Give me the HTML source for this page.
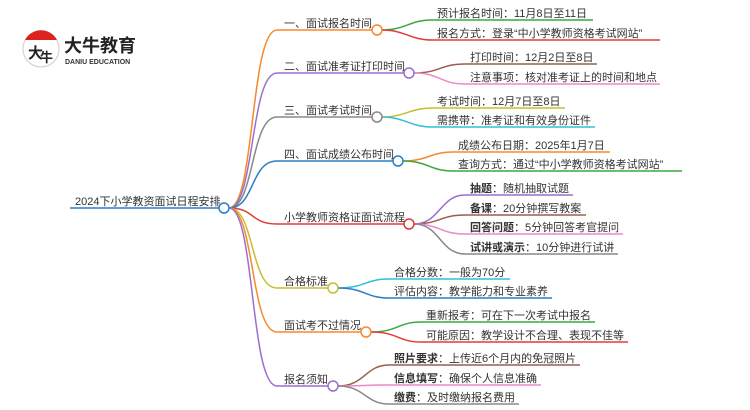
<!DOCTYPE html>
<html><head><meta charset="utf-8"><style>
body{margin:0;background:#fff;}
svg{display:block;font-family:"Liberation Sans","Noto Sans CJK SC",sans-serif;}
text{font-size:11px;fill:#333;}
.b{font-weight:bold;}
</style></head><body>
<svg width="750" height="410" viewBox="0 0 750 410" xmlns="http://www.w3.org/2000/svg">
<!-- logo -->
<circle cx="41" cy="49" r="18" fill="#fff" stroke="#ccc" stroke-width="1"/>
<path d="M25,40 A18,18 0 0 1 57,40 Z" fill="#d22"/>
<text x="28" y="58" style="font-size:15px;fill:#222;font-weight:bold">大</text>
<text x="40" y="62" style="font-size:13px;fill:#222;font-weight:bold">牛</text>
<text x="64" y="52" style="font-size:18px;font-weight:bold;fill:#222">大牛教育</text>
<text x="65" y="64" style="font-size:7px;font-weight:bold;fill:#333">DANIU EDUCATION</text>

<g fill="none" stroke-width="1.5">
<path d="M70,208 H219" stroke="#2a7fc6"/>
<path d="M229,208 C255,208 250,30 277,30 H372" stroke="#f7892a"/>
<path d="M229,208 C255,208 250,73 277,73 H404" stroke="#9a6fd0"/>
<path d="M229,208 C255,208 250,117 277,117 H372" stroke="#888"/>
<path d="M229,208 C255,208 250,161 277,161 H393" stroke="#2a7fc6"/>
<path d="M229,208 C255,208 250,224 277,224 H404" stroke="#e03c3c"/>
<path d="M229,208 C255,208 250,288 277,288 H328" stroke="#c7bd2e"/>
<path d="M229,208 C255,208 250,332 277,332 H361" stroke="#f7892a"/>
<path d="M229,208 C255,208 250,386 277,386 H328" stroke="#9a6fd0"/>
<path d="M382,30 C405,30 410,20 432,20 H593" stroke="#3aa83a"/>
<path d="M382,30 C405,30 410,40 432,40 H660" stroke="#e03c3c"/>
<path d="M414,73 C440,73 440,64 465,64 H597" stroke="#9a5e4e"/>
<path d="M414,73 C440,73 440,84 465,84 H660" stroke="#e98acb"/>
<path d="M382,117 C405,117 410,108 432,108 H565" stroke="#c7bd2e"/>
<path d="M382,117 C405,117 410,127 432,127 H595" stroke="#2fc0d8"/>
<path d="M403,161 C428,161 430,152 453,152 H610" stroke="#f7892a"/>
<path d="M403,161 C428,161 430,171 453,171 H682" stroke="#3aa83a"/>
<path d="M414,224 C440,224 440,195 465,195 H573" stroke="#9a6fd0"/>
<path d="M414,224 C440,224 440,215 465,215 H586" stroke="#9a5e4e"/>
<path d="M414,224 C440,224 440,234 465,234 H623" stroke="#e98acb"/>
<path d="M414,224 C440,224 440,254 465,254 H618" stroke="#888"/>
<path d="M338,288 C365,288 365,279 389,279 H510" stroke="#2fc0d8"/>
<path d="M338,288 C365,288 365,298 389,298 H552" stroke="#2a7fc6"/>
<path d="M371,332 C398,332 398,322 421,322 H595" stroke="#3aa83a"/>
<path d="M371,332 C398,332 398,342 421,342 H628" stroke="#e03c3c"/>
<path d="M338,386 C365,386 365,365 389,365 H580" stroke="#9a5e4e"/>
<path d="M338,386 C365,386 365,385 389,385 H541" stroke="#e98acb"/>
<path d="M338,386 C365,386 365,404 389,404 H519" stroke="#888"/>
</g>
<g fill="#fff" stroke-width="1.5">
<circle cx="224" cy="208" r="5" stroke="#2a7fc6"/>
<circle cx="377" cy="30" r="5" stroke="#f7892a"/>
<circle cx="409" cy="73" r="5" stroke="#9a6fd0"/>
<circle cx="377" cy="117" r="5" stroke="#888"/>
<circle cx="398" cy="161" r="5" stroke="#2a7fc6"/>
<circle cx="409" cy="224" r="5" stroke="#e03c3c"/>
<circle cx="333" cy="288" r="5" stroke="#c7bd2e"/>
<circle cx="366" cy="332" r="5" stroke="#f7892a"/>
<circle cx="333" cy="386" r="5" stroke="#9a6fd0"/>
</g>
<text x="75" y="205">2024下小学教资面试日程安排</text>
<text x="284" y="27">一、面试报名时间</text>
<text x="284" y="70">二、面试准考证打印时间</text>
<text x="284" y="114">三、面试考试时间</text>
<text x="284" y="158">四、面试成绩公布时间</text>
<text x="284" y="221">小学教师资格证面试流程</text>
<text x="284" y="285">合格标准</text>
<text x="284" y="329">面试考不过情况</text>
<text x="284" y="383">报名须知</text>

<text x="437" y="17">预计报名时间：11月8日至11日</text>
<text x="437" y="37">报名方式：登录“中小学教师资格考试网站”</text>
<text x="470" y="61">打印时间：12月2日至8日</text>
<text x="470" y="81">注意事项：核对准考证上的时间和地点</text>
<text x="437" y="105">考试时间：12月7日至8日</text>
<text x="437" y="124">需携带：准考证和有效身份证件</text>
<text x="458" y="149">成绩公布日期：2025年1月7日</text>
<text x="458" y="168">查询方式：通过“中小学教师资格考试网站”</text>
<text x="470" y="192"><tspan class="b">抽题</tspan>：随机抽取试题</text>
<text x="470" y="212"><tspan class="b">备课</tspan>：20分钟撰写教案</text>
<text x="470" y="231"><tspan class="b">回答问题</tspan>：5分钟回答考官提问</text>
<text x="470" y="251"><tspan class="b">试讲或演示</tspan>：10分钟进行试讲</text>
<text x="394" y="276">合格分数：一般为70分</text>
<text x="394" y="295">评估内容：教学能力和专业素养</text>
<text x="426" y="319">重新报考：可在下一次考试中报名</text>
<text x="426" y="339">可能原因：教学设计不合理、表现不佳等</text>
<text x="394" y="362"><tspan class="b">照片要求</tspan>：上传近6个月内的免冠照片</text>
<text x="394" y="382"><tspan class="b">信息填写</tspan>：确保个人信息准确</text>
<text x="394" y="401"><tspan class="b">缴费</tspan>：及时缴纳报名费用</text>
</svg>
</body></html>
